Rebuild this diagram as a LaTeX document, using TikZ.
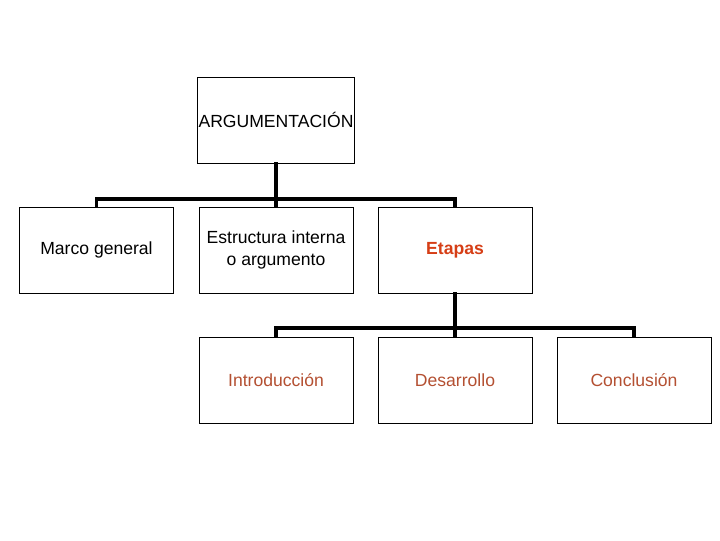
\documentclass[tikz,border=0pt]{standalone}
\usepackage{fontspec}
\setmainfont{Liberation Sans}
\usepackage{tikz}

\definecolor{etapared}{RGB}{214,62,22}
\definecolor{subred}{RGB}{180,80,50}

\tikzset{
  caja/.style={draw=black, line width=0.6pt, fill=white, minimum width=3.85cm, minimum height=2.15cm, align=center, inner sep=1pt, font=\fontsize{12.5}{16}\selectfont},
  conector/.style={line width=2.6pt, line cap=rect}
}

\begin{document}
\begin{tikzpicture}[x=0.025cm, y=-0.025cm]
%\draw[step=40,gray,very thin] (0,0) grid (720,540);
\useasboundingbox (0,0) rectangle (720,540);

\node[caja] (arg) at (276,120) {ARGUMENTACI\'ON};

\node[caja] (marco) at (96.5,250) {Marco general};

\node[caja] (estr) at (276,250) {Estructura interna\\o argumento};

\node[caja, text=etapared, font=\fontsize{12.5}{16}\selectfont\bfseries] (etapas) at (455,250) {Etapas};

\node[caja, text=subred] (intro) at (276,380) {Introducci\'on};

\node[caja, text=subred] (desa) at (455,380) {Desarrollo};

\node[caja, text=subred] (concl) at (634,380) {Conclusi\'on};

\coordinate (bus1) at (276,199);

\coordinate (bus2) at (455,328);

\draw[conector] (marco.north) |- (bus1) -| (etapas.north);

\draw[conector] (arg.south) -- (estr.north);

\draw[conector] (intro.north) |- (bus2) -| (concl.north);

\draw[conector] (etapas.south) -- (desa.north);

\end{tikzpicture}
\end{document}
